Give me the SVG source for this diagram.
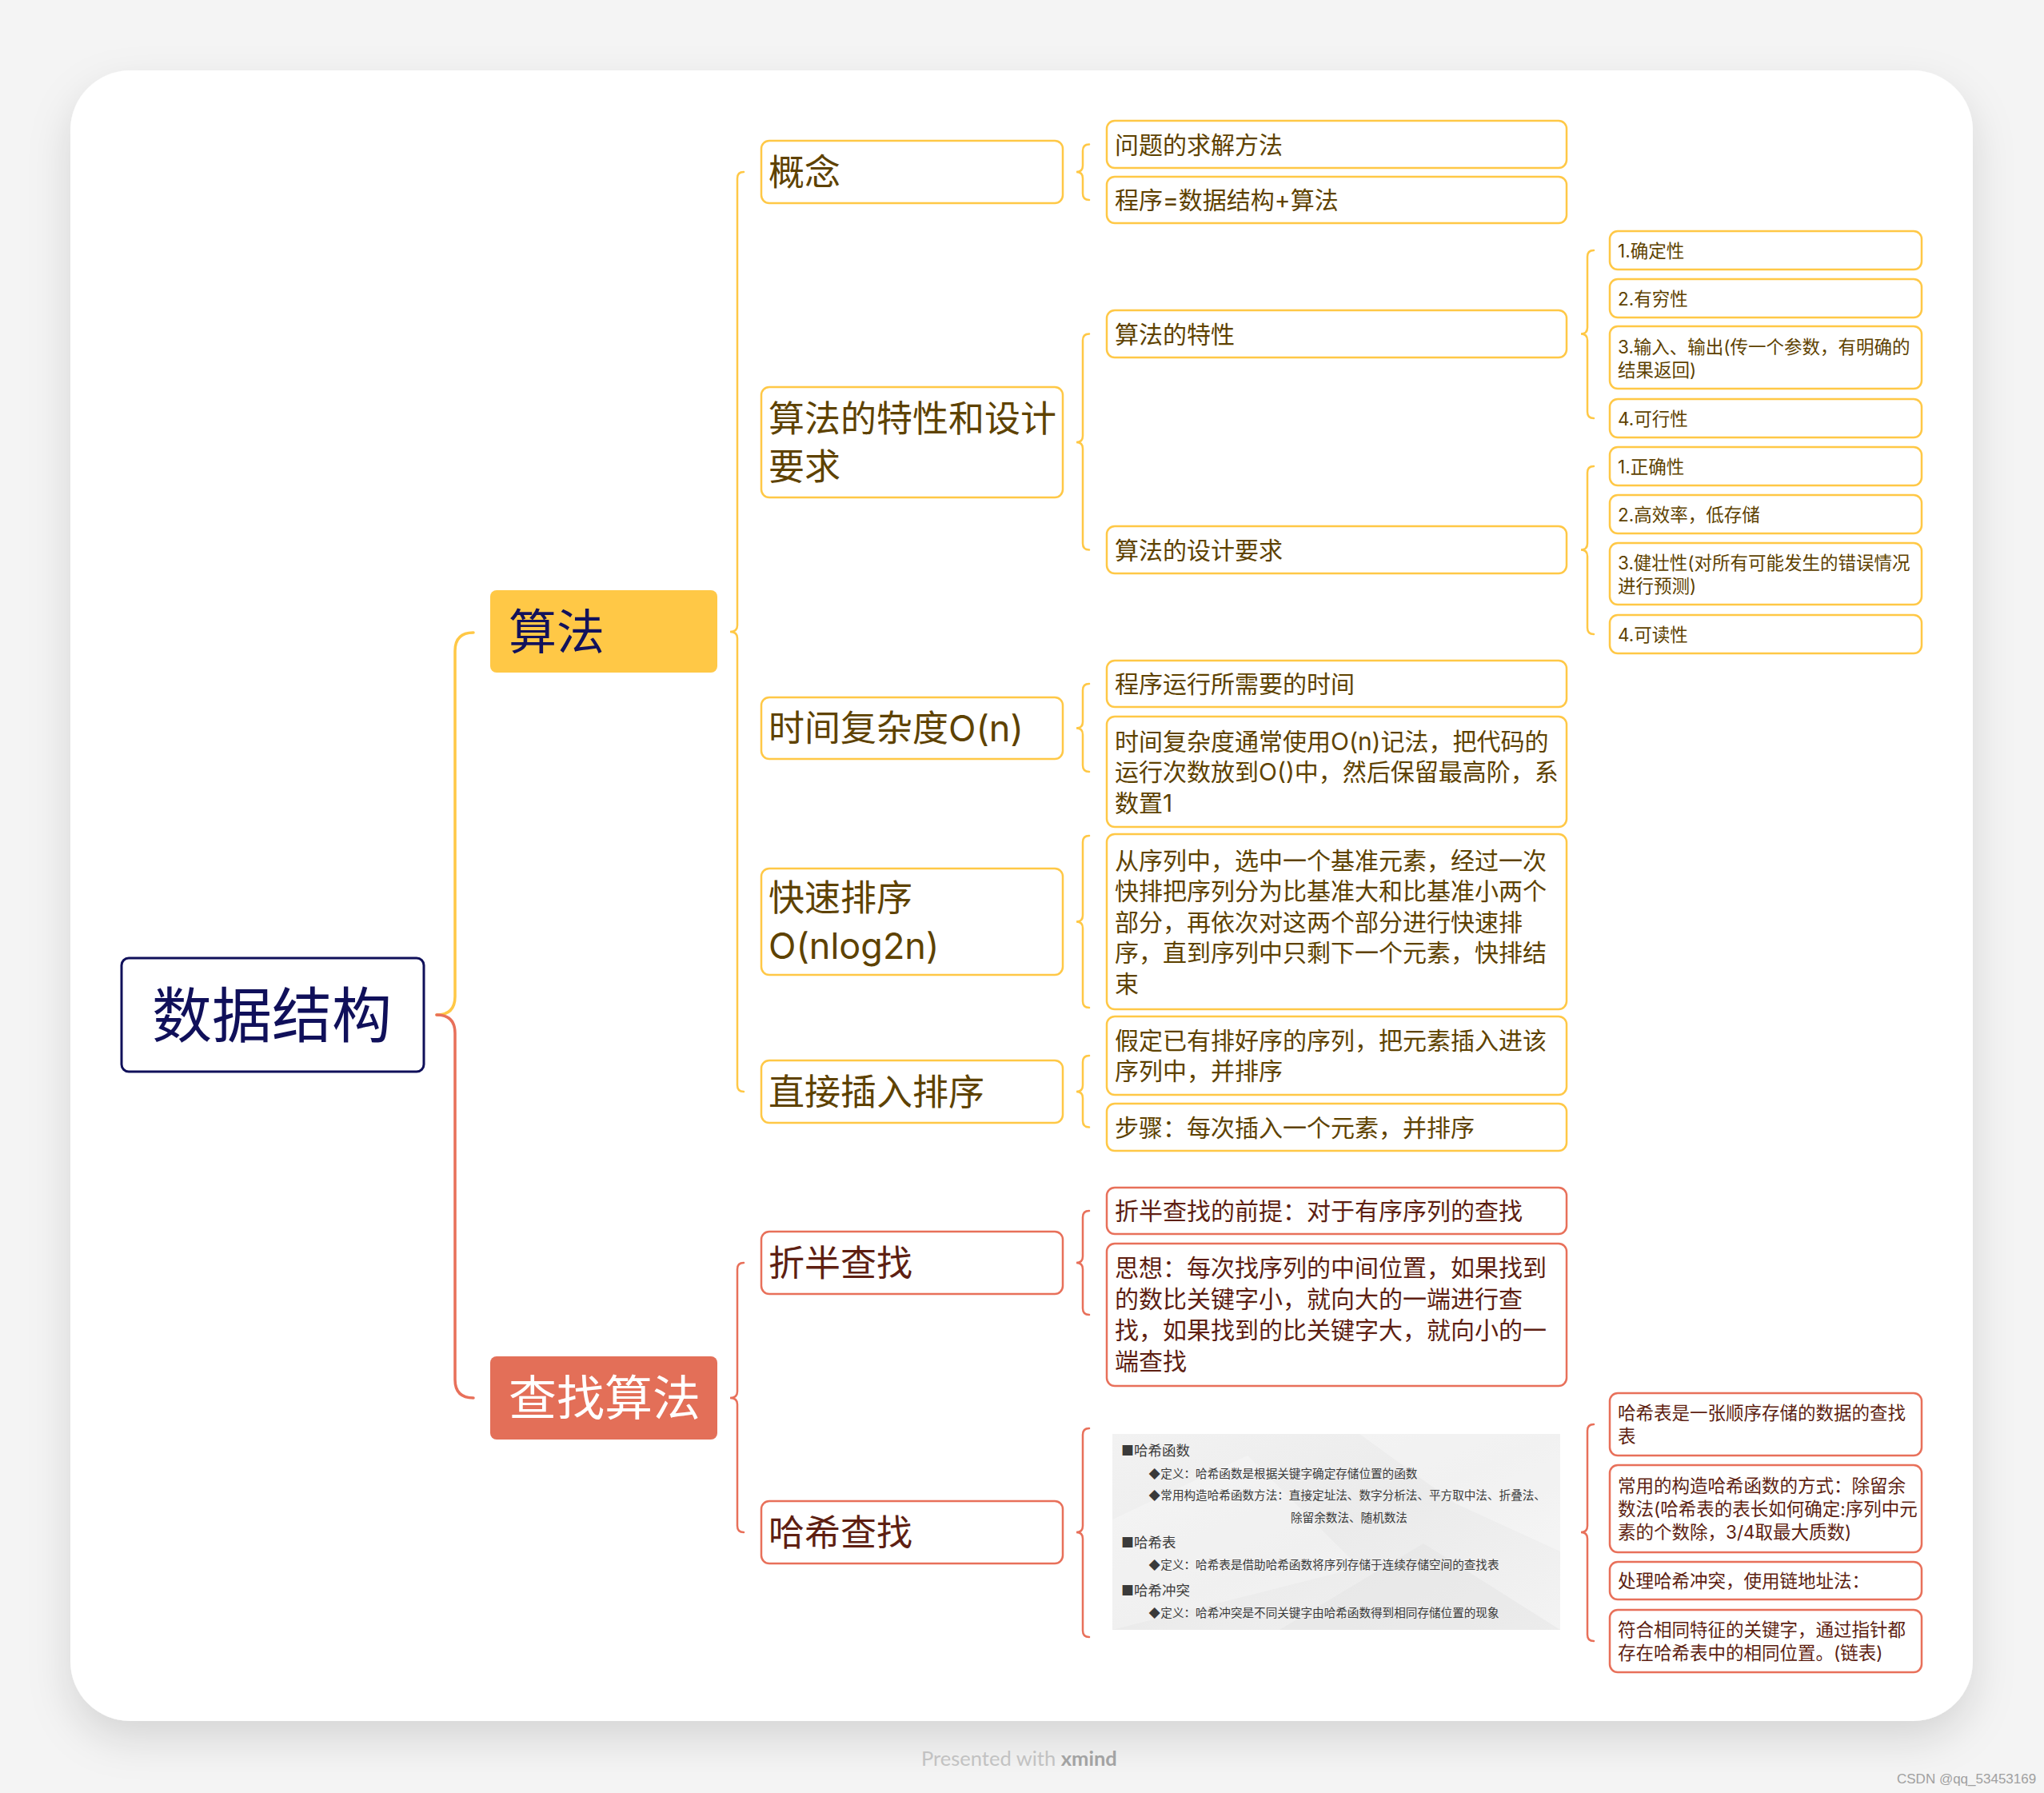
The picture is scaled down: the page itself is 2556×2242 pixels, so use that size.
<svg xmlns="http://www.w3.org/2000/svg" width="2556" height="2242" viewBox="0 0 2556 2242">
<defs>
<style>
text{font-family:Inter,"Noto Sans CJK SC",sans-serif;dominant-baseline:central}
.ny rect{fill:#fff;stroke:#FFC846;stroke-width:2.5}
.nr rect{fill:#fff;stroke:#E8705A;stroke-width:2.5}
.t2{font-size:45px}
.t3{font-size:30px}
.t4{font-size:22.5px}
.ny text{fill:#5e4200}
.nr text{fill:#5e1f12}
.by{fill:none;stroke:#FFC846;stroke-width:2.5;stroke-linecap:round}
.br{fill:none;stroke:#E8705A;stroke-width:2.5;stroke-linecap:round}
.img text{fill:#3a3a3a}
.ih{font-size:17.5px}
.ib{font-size:14.6px}
</style>
<filter id="sh" x="-10%" y="-10%" width="120%" height="125%">
<feDropShadow dx="0" dy="22" stdDeviation="26" flood-color="#000" flood-opacity="0.13"/>
</filter>
<linearGradient id="ig" x1="0" y1="0" x2="1" y2="1">
<stop offset="0" stop-color="#f2f2f2"/>
<stop offset="0.5" stop-color="#ebebeb"/>
<stop offset="1" stop-color="#f3f3f3"/>
</linearGradient>
</defs>
<rect x="0" y="0" width="2556" height="2242" fill="#f4f4f4"/>
<rect x="88" y="88" width="2379" height="2064" rx="75" fill="#fff" filter="url(#sh)"/>

<g id="connectors">
<path d="M 546 1269 Q 569 1269 569 1246 L 569 814 Q 569 791 592 791" fill="none" stroke="#FFC846" stroke-width="3.5" stroke-linecap="round"/>
<path d="M 546 1269 Q 569 1269 569 1292 L 569 1725 Q 569 1748 592 1748" fill="none" stroke="#E8705A" stroke-width="3.5" stroke-linecap="round"/>
<path class="by" d="M 930 215 Q 922 215 922 223 L 922 782 Q 922 790 913 790 Q 922 790 922 798 L 922 1357 Q 922 1365 930 1365"/>
<path class="br" d="M 930 1579 Q 922 1579 922 1587 L 922 1740 Q 922 1748 913 1748 Q 922 1748 922 1756 L 922 1908 Q 922 1916 930 1916"/>
<path class="by" d="M 1362 180.5 Q 1354 180.5 1354 188.5 L 1354 207 Q 1354 215 1346 215 Q 1354 215 1354 223 L 1354 242 Q 1354 250 1362 250"/>
<path class="by" d="M 1362 417.5 Q 1354 417.5 1354 425.5 L 1354 545 Q 1354 553 1346 553 Q 1354 553 1354 561 L 1354 679.5 Q 1354 687.5 1362 687.5"/>
<path class="by" d="M 1362 855 Q 1354 855 1354 863 L 1354 902.5 Q 1354 910.5 1346 910.5 Q 1354 910.5 1354 918.5 L 1354 957 Q 1354 965 1362 965"/>
<path class="by" d="M 1362 1045 Q 1354 1045 1354 1053 L 1354 1144.5 Q 1354 1152.5 1346 1152.5 Q 1354 1152.5 1354 1160.5 L 1354 1252 Q 1354 1260 1362 1260"/>
<path class="by" d="M 1362 1320 Q 1354 1320 1354 1328 L 1354 1357 Q 1354 1365 1346 1365 Q 1354 1365 1354 1373 L 1354 1401.5 Q 1354 1409.5 1362 1409.5"/>
<path class="br" d="M 1362 1514 Q 1354 1514 1354 1522 L 1354 1571 Q 1354 1579 1346 1579 Q 1354 1579 1354 1587 L 1354 1636 Q 1354 1644 1362 1644"/>
<path class="br" d="M 1362 1786 Q 1354 1786 1354 1794 L 1354 1908 Q 1354 1916 1346 1916 Q 1354 1916 1354 1924 L 1354 2039 Q 1354 2047 1362 2047"/>
<path class="by" d="M 1993 313 Q 1985 313 1985 321 L 1985 409.5 Q 1985 417.5 1977 417.5 Q 1985 417.5 1985 425.5 L 1985 515 Q 1985 523 1993 523"/>
<path class="by" d="M 1993 583 Q 1985 583 1985 591 L 1985 679.5 Q 1985 687.5 1977 687.5 Q 1985 687.5 1985 695.5 L 1985 785 Q 1985 793 1993 793"/>
<path class="br" d="M 1993 1781 Q 1985 1781 1985 1789 L 1985 1908 Q 1985 1916 1977 1916 Q 1985 1916 1985 1924 L 1985 2044 Q 1985 2052 1993 2052"/>
</g>

<g id="root">
<rect x="152" y="1198" width="378" height="142" rx="9" fill="#fff" stroke="#10105a" stroke-width="3"/>
<text x="190" y="1269" font-size="75" fill="#10105a">数据结构</text>
</g>

<g id="suanfa">
<rect x="613" y="738" width="284" height="103" rx="8" fill="#FFC846"/>
<text x="636" y="790" font-size="60" fill="#12125c">算法</text>
</g>
<g id="chazhao">
<rect x="613" y="1696" width="284" height="104" rx="8" fill="#E36F58"/>
<text x="636" y="1748" font-size="60" fill="#fff">查找算法</text>
</g>

<g id="gainian" class="ny"><rect x="952" y="176" width="377" height="78" rx="10"/><text class="t2" x="961" y="215">概念</text></g>
<g id="texing-sheji" class="ny"><rect x="952" y="484" width="377" height="138" rx="10"/><text class="t2" x="961" y="523">算法的特性和设计</text><text class="t2" x="961" y="583">要求</text></g>
<g id="shijian" class="ny"><rect x="952" y="872" width="377" height="77" rx="10"/><text class="t2" x="961" y="910.5">时间复杂度O(n)</text></g>
<g id="kuaisu" class="ny"><rect x="952" y="1086" width="377" height="133" rx="10"/><text class="t2" x="961" y="1122.5">快速排序</text><text class="t2" x="961" y="1182.5">O(nlog2n)</text></g>
<g id="charu" class="ny"><rect x="952" y="1326" width="377" height="78" rx="10"/><text class="t2" x="961" y="1365">直接插入排序</text></g>
<g id="zheban" class="nr"><rect x="952" y="1540" width="377" height="78" rx="10"/><text class="t2" x="961" y="1579">折半查找</text></g>
<g id="haxi" class="nr"><rect x="952" y="1877" width="377" height="78" rx="10"/><text class="t2" x="961" y="1916">哈希查找</text></g>

<g id="wenti" class="ny"><rect x="1384" y="151" width="575" height="59" rx="10"/><text class="t3" x="1394" y="180.5">问题的求解方法</text></g>
<g id="chengxu" class="ny"><rect x="1384" y="221" width="575" height="58" rx="10"/><text class="t3" x="1394" y="250">程序=数据结构+算法</text></g>
<g id="texing" class="ny"><rect x="1384" y="388" width="575" height="59" rx="10"/><text class="t3" x="1394" y="417.5">算法的特性</text></g>
<g id="sheji" class="ny"><rect x="1384" y="658" width="575" height="59" rx="10"/><text class="t3" x="1394" y="687.5">算法的设计要求</text></g>
<g id="yunxing" class="ny"><rect x="1384" y="826" width="575" height="58" rx="10"/><text class="t3" x="1394" y="855">程序运行所需要的时间</text></g>
<g id="fuzadu" class="ny"><rect x="1384" y="896" width="575" height="138" rx="10"/><text class="t3" x="1394" y="926.5">时间复杂度通常使用O(n)记法，把代码的</text><text class="t3" x="1394" y="965">运行次数放到O()中，然后保留最高阶，系</text><text class="t3" x="1394" y="1003.5">数置1</text></g>
<g id="kuaipai" class="ny"><rect x="1384" y="1043" width="575" height="219" rx="10"/><text class="t3" x="1394" y="1075.5">从序列中，选中一个基准元素，经过一次</text><text class="t3" x="1394" y="1114">快排把序列分为比基准大和比基准小两个</text><text class="t3" x="1394" y="1152.5">部分，再依次对这两个部分进行快速排</text><text class="t3" x="1394" y="1191">序，直到序列中只剩下一个元素，快排结</text><text class="t3" x="1394" y="1229.5">束</text></g>
<g id="jiading" class="ny"><rect x="1384" y="1271" width="575" height="98" rx="10"/><text class="t3" x="1394" y="1300.75">假定已有排好序的序列，把元素插入进该</text><text class="t3" x="1394" y="1339.25">序列中，并排序</text></g>
<g id="buzhou" class="ny"><rect x="1384" y="1380" width="575" height="59" rx="10"/><text class="t3" x="1394" y="1409.5">步骤：每次插入一个元素，并排序</text></g>
<g id="qianti" class="nr"><rect x="1384" y="1485" width="575" height="58" rx="10"/><text class="t3" x="1394" y="1514">折半查找的前提：对于有序序列的查找</text></g>
<g id="sixiang" class="nr"><rect x="1384" y="1555" width="575" height="178" rx="10"/><text class="t3" x="1394" y="1585">思想：每次找序列的中间位置，如果找到</text><text class="t3" x="1394" y="1624">的数比关键字小，就向大的一端进行查</text><text class="t3" x="1394" y="1663">找，如果找到的比关键字大，就向小的一</text><text class="t3" x="1394" y="1702">端查找</text></g>

<g id="haxi-image" class="img">
<rect x="1391" y="1793" width="560" height="245" fill="url(#ig)"/>
<polygon points="1391,1900 1560,1820 1700,1960 1391,2038" fill="#ffffff" opacity="0.25"/>
<polygon points="1700,1793 1951,1793 1951,1940 1820,1880" fill="#ffffff" opacity="0.3"/>
<polygon points="1600,2038 1780,1930 1951,2038" fill="#e2e2e2" opacity="0.4"/>
<text class="ih" x="1402" y="1813">■哈希函数</text>
<text class="ib" x="1436" y="1843">◆定义：哈希函数是根据关键字确定存储位置的函数</text>
<text class="ib" x="1436" y="1870">◆常用构造哈希函数方法：直接定址法、数字分析法、平方取中法、折叠法、</text>
<text class="ib" x="1614" y="1898">除留余数法、随机数法</text>
<text class="ih" x="1402" y="1928">■哈希表</text>
<text class="ib" x="1436" y="1957">◆定义：哈希表是借助哈希函数将序列存储于连续存储空间的查找表</text>
<text class="ih" x="1402" y="1988">■哈希冲突</text>
<text class="ib" x="1436" y="2017">◆定义：哈希冲突是不同关键字由哈希函数得到相同存储位置的现象</text>
</g>

<g id="queding" class="ny"><rect x="2013" y="289" width="390" height="48" rx="10"/><text class="t4" x="2023" y="313">1.确定性</text></g>
<g id="youqiong" class="ny"><rect x="2013" y="349" width="390" height="48" rx="10"/><text class="t4" x="2023" y="373">2.有穷性</text></g>
<g id="shuru" class="ny"><rect x="2013" y="408" width="390" height="78" rx="10"/><text class="t4" x="2023" y="433">3.输入、输出(传一个参数，有明确的</text><text class="t4" x="2023" y="462">结果返回)</text></g>
<g id="kexing" class="ny"><rect x="2013" y="499" width="390" height="48" rx="10"/><text class="t4" x="2023" y="523">4.可行性</text></g>
<g id="zhengque" class="ny"><rect x="2013" y="559" width="390" height="48" rx="10"/><text class="t4" x="2023" y="583">1.正确性</text></g>
<g id="gaoxiao" class="ny"><rect x="2013" y="619" width="390" height="48" rx="10"/><text class="t4" x="2023" y="643">2.高效率，低存储</text></g>
<g id="jianzhuang" class="ny"><rect x="2013" y="679" width="390" height="77" rx="10"/><text class="t4" x="2023" y="703">3.健壮性(对所有可能发生的错误情况</text><text class="t4" x="2023" y="732">进行预测)</text></g>
<g id="kedu" class="ny"><rect x="2013" y="769" width="390" height="48" rx="10"/><text class="t4" x="2023" y="793">4.可读性</text></g>

<g id="haxibiao" class="nr"><rect x="2013" y="1742" width="390" height="78" rx="10"/><text class="t4" x="2023" y="1766.5">哈希表是一张顺序存储的数据的查找</text><text class="t4" x="2023" y="1795.5">表</text></g>
<g id="gouzao" class="nr"><rect x="2013" y="1832" width="390" height="109" rx="10"/><text class="t4" x="2023" y="1857.5">常用的构造哈希函数的方式：除留余</text><text class="t4" x="2023" y="1886.5">数法(哈希表的表长如何确定:序列中元</text><text class="t4" x="2023" y="1915.5">素的个数除，3/4取最大质数)</text></g>
<g id="chongtu" class="nr"><rect x="2013" y="1953" width="390" height="47" rx="10"/><text class="t4" x="2023" y="1976.5">处理哈希冲突，使用链地址法：</text></g>
<g id="lianbiao" class="nr"><rect x="2013" y="2013" width="390" height="78" rx="10"/><text class="t4" x="2023" y="2037.5">符合相同特征的关键字，通过指针都</text><text class="t4" x="2023" y="2066.5">存在哈希表中的相同位置。(链表)</text></g>

<text x="1152" y="2198" font-size="25.5" fill="#c2c2c2" style="font-family:Lato,'Open Sans',sans-serif">Presented with <tspan font-weight="bold" fill="#a3a3a3">xmind</tspan></text>
<text x="2372" y="2224" font-size="17" fill="#a0a0a0" style="font-family:'Liberation Sans',Arial,sans-serif">CSDN @qq_53453169</text>
</svg>
